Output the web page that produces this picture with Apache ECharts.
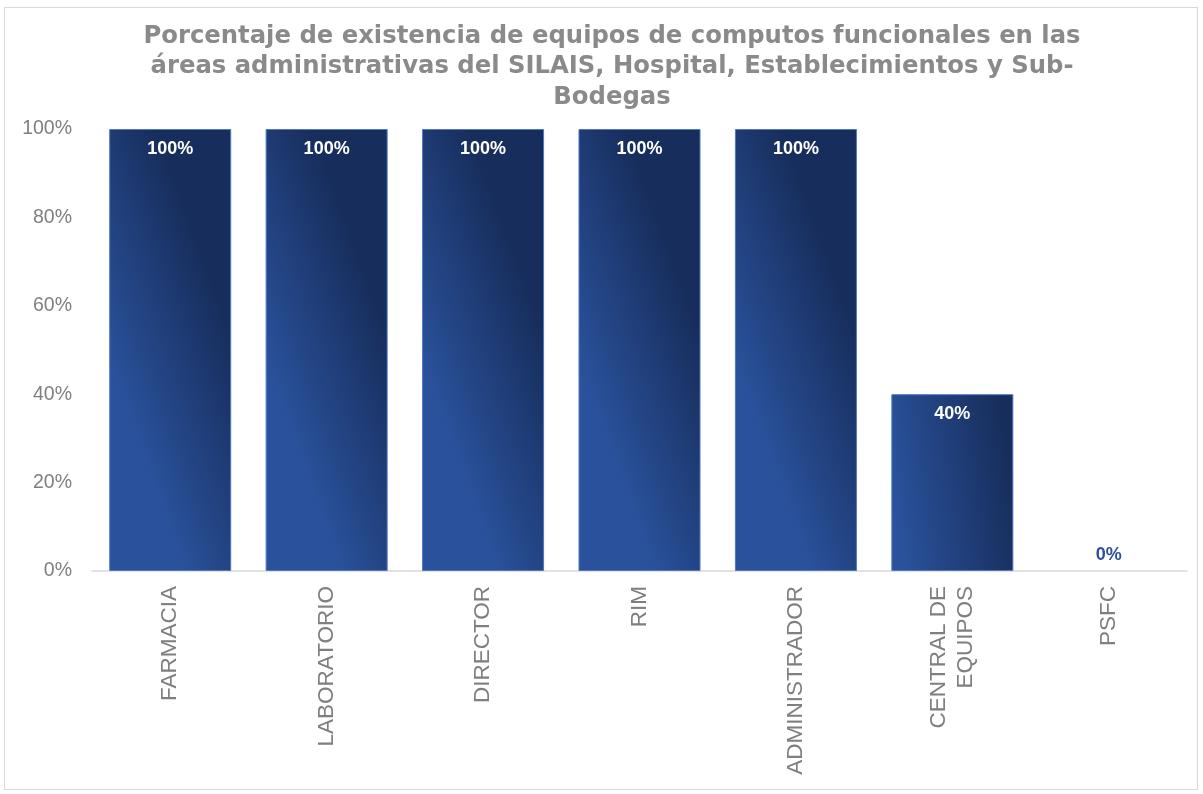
<!DOCTYPE html>
<html><head><meta charset="utf-8">
<script src="https://cdn.jsdelivr.net/npm/echarts@6/dist/echarts.min.js"></script>
<style>html,body{margin:0;padding:0;background:#fff;}#c{width:1203px;height:794px;}
#frame{position:absolute;left:4px;top:7px;width:1194px;height:783px;border:1px solid #d9d9d9;box-sizing:border-box;pointer-events:none;}</style>
</head><body><div id="c"></div><div id="frame"></div>
<script>
var categories = ['FARMACIA','LABORATORIO','DIRECTOR','RIM','ADMINISTRADOR','CENTRAL DE\nEQUIPOS','PSFC'];
var values = [100,100,100,100,100,40,0];
var yTicks = [0,20,40,60,80,100];
var titleText = 'Porcentaje de existencia de equipos de computos funcionales en las\náreas administrativas del SILAIS, Hospital, Establecimientos y Sub-\nBodegas';

var chart = echarts.init(document.getElementById('c'));
var grad = new echarts.graphic.LinearGradient(0,0.55,1,0.45,[{offset:0,color:'#2a529c'},{offset:1,color:'#172d5b'}]);
chart.setOption({
  animation:false,
  title:{text:titleText,left:607,textAlign:'center',top:16,textStyle:{fontFamily:'DejaVu Sans',fontSize:24.3,fontWeight:'bold',color:'#8a8a8a',lineHeight:30.5}},
  grid:{left:92,right:16,top:129,bottom:223},
  xAxis:{type:'category',data:categories,
    axisLine:{lineStyle:{color:'#d9d9d9',width:1.5}},axisTick:{show:false},
    axisLabel:{rotate:90,color:'#7f7f7f',fontFamily:'Liberation Sans',fontSize:22.5,lineHeight:27,margin:15}},
  yAxis:{type:'value',min:0,max:100,interval:20,
    axisLine:{show:false},axisTick:{show:false},splitLine:{show:false},
    axisLabel:{color:'#7f7f7f',fontFamily:'Liberation Sans',fontSize:19.5,margin:20,formatter:function(v){return yTicks.indexOf(v)>=0?v+'%':'';}}},
  series:[{type:'bar',data:values.map(function(v){
      return v===0?{value:v,itemStyle:{borderWidth:0,color:'rgba(0,0,0,0)',borderColor:'rgba(0,0,0,0)'},label:{position:'top',color:'#2f4f9a',distance:7}}:{value:v};
    }),
    barCategoryGap:'22%',
    itemStyle:{color:grad,borderColor:'#4f77c4',borderWidth:1},
    label:{show:true,position:'insideTop',distance:11,color:'#ffffff',fontFamily:'Liberation Sans',fontWeight:'bold',fontSize:18,formatter:'{c}%'}
  }]
});
</script></body></html>
